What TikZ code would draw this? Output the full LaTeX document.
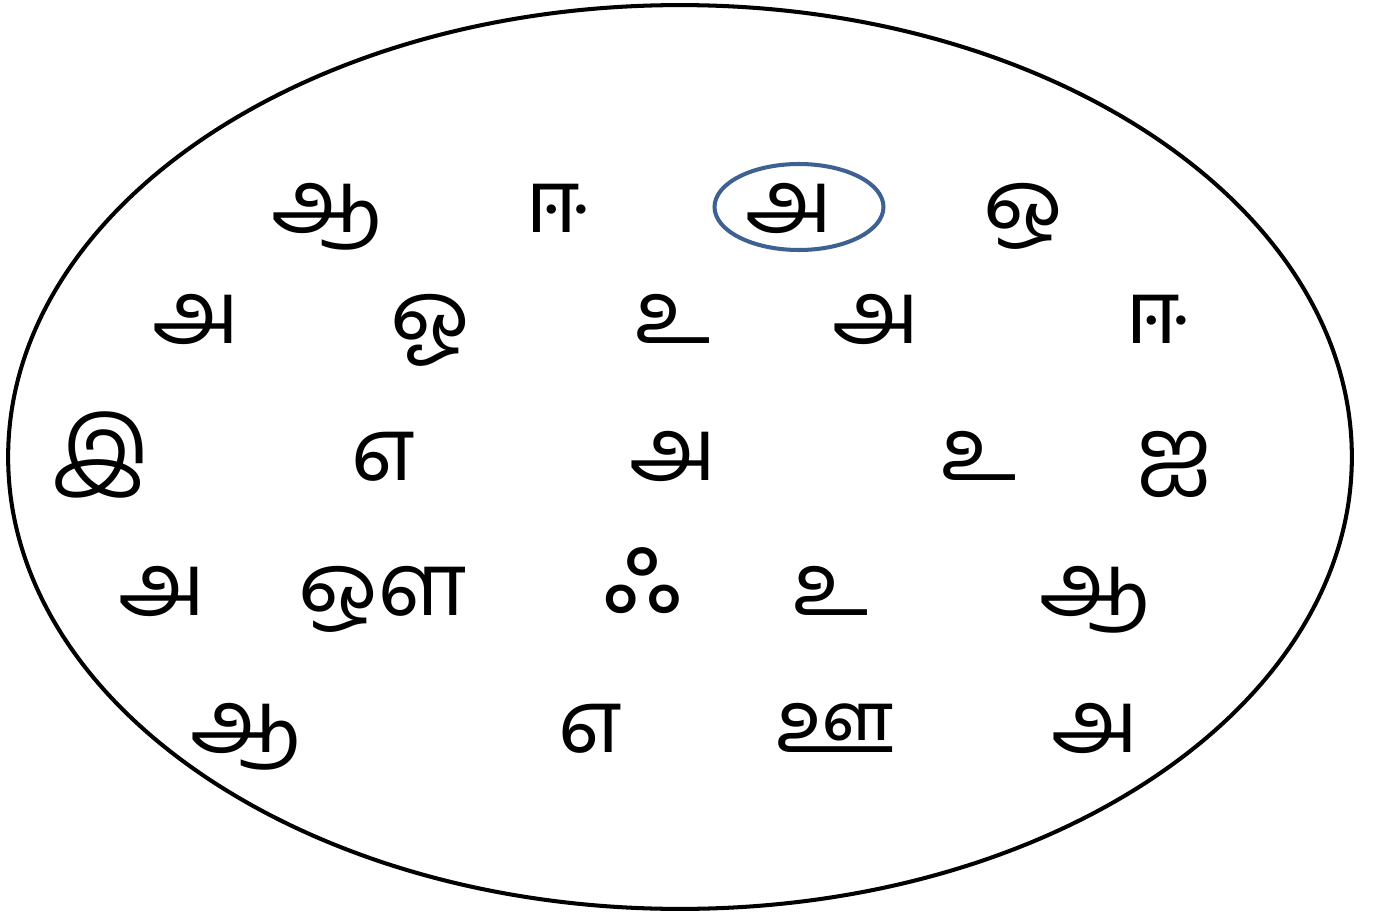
\documentclass[tikz,border=0pt]{standalone}
\usepackage{fontspec}
\usepackage{tikz}
\usetikzlibrary{positioning}
\newfontfamily\tamilfont[Script=Tamil]{Hind Madurai}
\definecolor{ringblue}{RGB}{62,96,146}
\tikzset{
  letter/.style={anchor=base, inner sep=0pt, font=\tamilfont\fontsize{50}{56}\selectfont},
  outline/.style={draw=black, line width=2.3pt},
  ring/.style={draw=ringblue, line width=2.3pt}
}

\begin{document}
\begin{tikzpicture}[x=0.02cm, y=-0.02cm]
  \useasboundingbox (0,0) rectangle (1374,916);

  % --- outer set ---
  \draw[outline] (680,457) ellipse [x radius=13.44cm, y radius=9.04cm];

  % --- Row 1 ---
  \node[letter] (r1a) at (327,232) {ஆ};
  \node[letter] (r1b) at (557,232) {ஈ};
  \node[letter] (r1c) at (789,232) {அ};
  \node[letter] (r1d) at (1023,232) {ஒ};
  \draw[ring] (799,207) ellipse [x radius=1.69cm, y radius=0.86cm];

  % --- Row 2 ---
  \node[letter] (r2a) at (196,343) {அ};
  \node[letter] (r2b) at (430,343) {ஓ};
  \node[letter] (r2c) at (673,343) {உ};
  \node[letter] (r2d) at (876,343) {அ};
  \node[letter] (r2e) at (1157,343) {ஈ};

  % --- Row 3 ---
  \node[letter] (r3a) at (101,480) {இ};
  \node[letter] (r3b) at (383,480) {எ};
  \node[letter] (r3c) at (673,480) {அ};
  \node[letter] (r3d) at (979,480) {உ};
  \node[letter] (r3e) at (1175,480) {ஐ};

  % --- Row 4 ---
  \node[letter] (r4a) at (162,615) {அ};
  \node[letter] (r4b) at (382,615) {ஔ};
  \node[letter, font=\tamilfont\fontsize{66}{72}\selectfont] (r4c) at (643,612) {ஃ};
  \node[letter] (r4d) at (831,615) {உ};
  \node[letter] (r4e) at (1095,615) {ஆ};

  % --- Row 5 ---
  \node[letter] (r5a) at (246,752) {ஆ};
  \node[letter] (r5b) at (590,752) {எ};
  \node[letter] (r5c) at (835,752) {ஊ};
  \node[letter] (r5d) at (1095,752) {அ};
\end{tikzpicture}
\end{document}
